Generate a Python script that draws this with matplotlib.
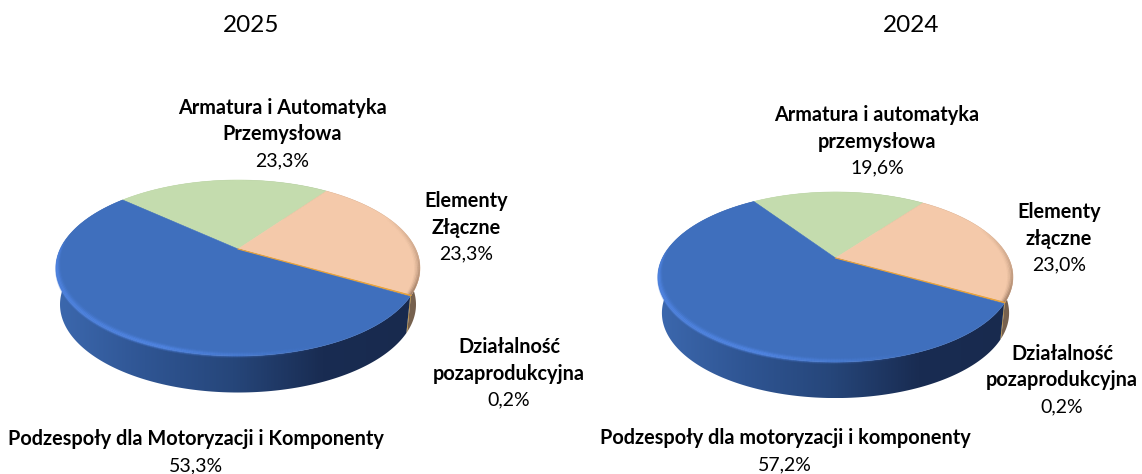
import numpy as np
import matplotlib
matplotlib.use("Agg")
import matplotlib.pyplot as plt
from matplotlib.colors import LinearSegmentedColormap
from matplotlib.patches import Polygon
from matplotlib.collections import LineCollection

plt.rcParams['font.family'] = ['Lato', 'DejaVu Sans']

# Values in slice order, clockwise
years = ["2025", "2024"]
values_2025 = [23.3, 23.3, 0.2, 53.3]
values_2024 = [19.6, 23.0, 0.2, 57.2]
labels_2025 = ["Armatura i Automatyka\nPrzemysłowa", "Elementy\nZłączne",
               "Działalność\npozaprodukcyjna", "Podzespoły dla Motoryzacji i Komponenty"]
labels_2024 = ["Armatura i automatyka\nprzemysłowa", "Elementy\nzłączne",
               "Działalność\npozaprodukcyjna", "Podzespoły dla motoryzacji i komponenty"]

top_colors = ["#c4dcae", "#f4c9aa", "#e8a33d", "#3f6fbd"]
side_maps = [
    ["#a9c493", "#7f9470"],
    ["#8a6f58", "#75604e"],
    ["#b98420", "#a07018"],
    ["#3c68ae", "#2f5593", "#26467a", "#192c52", "#182a4e"],
]

fig = plt.figure(figsize=(11.42, 4.74), dpi=100)
ax = fig.add_axes([0, 0, 1, 1])


def project(theta, g, scale=1.0, dy=0.0):
    # perspective view of the unit circle, apex of the pie stays at (cx, ay)
    u = np.cos(theta)
    v = np.sin(theta)
    w = 1 + g["k"] * v
    x = g["cx"] + scale * g["a"] * u / w
    y = g["ay"] - g["b"] * v / w + dy
    return x, y


def rim_segments(th, g, scale=1.0, dy=0.0):
    x, y = project(th, g, scale, dy)
    return np.stack([np.c_[x[:-1], y[:-1]], np.c_[x[1:], y[1:]]], axis=1)


def draw_pie(values, g):
    total = sum(values)
    edges = [g["start"]]
    for val in values:
        edges.append(edges[-1] - 360 * val / total)
    # side walls first, top face goes over them
    for i in range(len(values)):
        th = np.radians(np.linspace(edges[i], edges[i + 1], 200))
        xt, yt = project(th, g)
        xb, yb = project(th, g, scale=g["shrink"], dy=g["depth"])
        pts = np.vstack([np.c_[xt, yt], np.c_[xb, yb][::-1]])
        poly = Polygon(pts, closed=True, transform=ax.transData, fc="none", ec="none")
        ax.add_patch(poly)
        cmap = LinearSegmentedColormap.from_list("side", side_maps[i])
        im = ax.imshow(np.linspace(0, 1, 256)[None, :],
                       extent=[pts[:, 0].min(), pts[:, 0].max(), pts[:, 1].max(), pts[:, 1].min()],
                       cmap=cmap, aspect="auto", interpolation="bilinear", zorder=2)
        im.set_clip_path(poly)
    for i in range(len(values)):
        th = np.radians(np.linspace(edges[i], edges[i + 1], 200))
        xt, yt = project(th, g)
        pts = np.vstack([[g["cx"], g["ay"]], np.c_[xt, yt]])
        ax.add_patch(Polygon(pts, closed=True, fc=top_colors[i], ec=top_colors[i], lw=0.4, zorder=3))
    # soft bevel inside the blue rim, lower left part only
    th = np.radians(np.linspace(edges[3], edges[3] - 360 * values[3] / total, 300))
    xt, _ = project(th, g)
    glow = np.clip((0.12 - np.sin(th[:-1])) * 2.5, 0, 1)
    fade = 1 - np.clip((xt[:-1] - g["cx"] + 0.4 * g["a"]) / (0.9 * g["a"]), 0, 1) ** 0.7
    cols = np.zeros((299, 4))
    cols[:, :3] = [0.32, 0.53, 0.90]
    for lw, scale, dy, alpha in [(1.2, 0.978, -4.0, 0.1), (1.2, 0.984, -3.0, 0.3), (1.2, 0.990, -2.0, 0.6),
                                 (1.2, 0.995, -1.0, 0.8), (1.2, 0.999, 0.2, 0.6), (1.2, 1.0, 1.3, 0.25)]:
        cols[:, 3] = glow * fade * alpha
        ax.add_collection(LineCollection(rim_segments(th, g, scale, dy), colors=cols.copy(), linewidths=lw, zorder=4))
    # dark edge on the orange slice, only towards the wall
    th = np.radians(np.linspace(edges[1] - 30, edges[2], 120))
    cols = np.zeros((119, 4))
    cols[:, :3] = [0.58, 0.45, 0.36]
    ramp = np.linspace(0, 1, 119) ** 1.3
    for scale, alpha in [(0.996, 0.9), (0.988, 0.55), (0.980, 0.28), (0.972, 0.1)]:
        cols[:, 3] = ramp * alpha
        ax.add_collection(LineCollection(rim_segments(th, g, scale), colors=cols.copy(), linewidths=1.2, zorder=4))
    # thin yellow border where the small slice meets the orange one
    x_e, y_e = project(np.radians(edges[2]), g)
    ax.plot([g["cx"], x_e], [g["ay"], y_e], color="#e8a33d", lw=0.8, zorder=4)


geom_2025 = dict(cx=238, ay=249, a=177.7, b=83.9, k=0.216, start=138, depth=36.5, shrink=0.978)
geom_2024 = dict(cx=835.5, ay=258, a=173, b=80.8, k=0.2236, start=124, depth=36, shrink=0.978)

draw_pie(values_2025, geom_2025)
draw_pie(values_2024, geom_2024)

ax.set_xlim(0, 1142)
ax.set_ylim(474, 0)
ax.axis("off")

title_x = [251, 911]
for x, yr in zip(title_x, years):
    ax.text(x, 25, yr, ha="center", va="center", fontsize=17.5, color="black")


def put_label(x, y, name, val, step=26.5):
    for line in name.split("\n"):
        ax.text(x, y, line, ha="center", va="center", fontsize=14.3, fontweight="bold", color="black")
        y += step
    ax.text(x, y, f"{val:.1f}%".replace(".", ","), ha="center", va="center", fontsize=14, color="black")


pos_2025 = [(282, 108), (466, 201), (509, 347), (196, 439)]
pos_2024 = [(877, 115), (1059, 212), (1062, 354), (785, 438)]
for (x, y), name, val in zip(pos_2025, labels_2025, values_2025):
    put_label(x, y, name, val)
for (x, y), name, val in zip(pos_2024, labels_2024, values_2024):
    put_label(x, y, name, val)

fig.savefig("out.png", dpi=100)
